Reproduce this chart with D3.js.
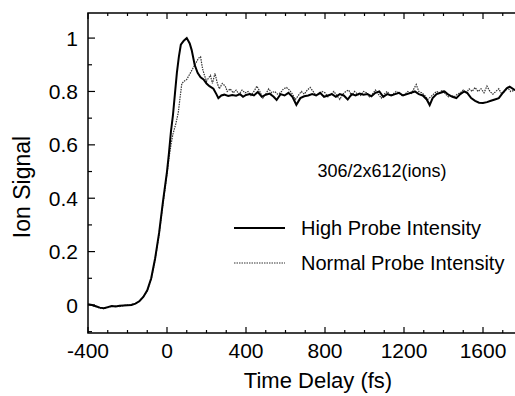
<!DOCTYPE html>
<html>
<head>
<meta charset="utf-8">
<script src="https://cdn.jsdelivr.net/npm/d3@7"></script>
<style>
  body { margin: 0; background: #fff; }
  svg { display: block; }
  text { font-family: "Liberation Sans", Arial, Helvetica, sans-serif; fill: #000; }
</style>
</head>
<body>
<svg width="515" height="396"></svg>
<script>
const width = 515;
const height = 396;
const margin = { top: 13, right: 0, bottom: 63, left: 88 };

// time delay (fs) / ion signal
const highTime = [-400, -380, -360, -340, -320, -300, -280, -260, -240, -220, -200, -180, -160, -140, -120, -100, -80, -60, -40, -20,
  0, 10, 20, 30, 40, 50, 60, 70, 85, 100, 115, 125, 140, 155, 170, 185, 200, 215, 235, 250, 260, 275, 290, 310, 330, 350, 370, 385,
  400, 420, 440, 460, 480, 500, 520, 540, 555, 575, 595, 615, 635, 655, 675, 695, 715, 735, 755, 775, 795, 815, 835, 855, 875, 895,
  915, 935, 955, 975, 995, 1015, 1035, 1055, 1075, 1095, 1115, 1135, 1155, 1175, 1195, 1215, 1235, 1255, 1275, 1295, 1315, 1330,
  1345, 1365, 1385, 1405, 1425, 1445, 1465, 1485, 1505, 1520, 1540, 1560, 1580, 1600, 1620, 1640, 1660, 1680, 1700, 1720, 1735, 1762];
const highSignal = [0.003, 0.0, -0.005, -0.01, -0.012, -0.008, -0.004, -0.006, -0.003, -0.002, -0.001, 0.0, 0.005, 0.014, 0.03, 0.055, 0.1, 0.175, 0.27, 0.39,
  0.5, 0.57, 0.65, 0.71, 0.79, 0.87, 0.93, 0.975, 0.99, 1.0, 0.98, 0.955, 0.9, 0.87, 0.853, 0.845, 0.83, 0.82, 0.81, 0.79, 0.775, 0.785, 0.788, 0.783, 0.787, 0.784, 0.79, 0.78,
  0.787, 0.79, 0.785, 0.798, 0.78, 0.788, 0.792, 0.78, 0.768, 0.79, 0.785, 0.795, 0.78, 0.75, 0.775, 0.782, 0.785, 0.79, 0.785, 0.795, 0.78, 0.785, 0.79, 0.78, 0.79, 0.785,
  0.77, 0.79, 0.785, 0.792, 0.788, 0.79, 0.782, 0.795, 0.8, 0.78, 0.79, 0.785, 0.79, 0.795, 0.785, 0.79, 0.795, 0.8, 0.79, 0.785, 0.77, 0.749,
  0.775, 0.79, 0.795, 0.8, 0.788, 0.78, 0.775, 0.79, 0.8, 0.795, 0.775, 0.765, 0.758, 0.757, 0.76, 0.765, 0.77, 0.775, 0.795, 0.812, 0.818, 0.805];

const normalTime = [-400, -380, -360, -340, -320, -300, -280, -260, -240, -220, -200, -180, -160, -140, -120, -100, -80, -60, -40, -20,
  0, 10, 20, 30, 45, 57, 65, 75, 90, 100, 115, 130, 145, 160, 170, 180, 190, 200, 210, 220, 230, 243, 255, 265, 280, 295, 305, 320,
  335, 350, 365, 380, 395, 410, 425, 440, 455, 470, 485, 500, 515, 530, 545, 560, 575, 590, 605, 620, 635, 650, 665, 680, 695, 710,
  725, 740, 755, 770, 785, 800, 815, 830, 845, 860, 875, 890, 905, 920, 935, 950, 965, 980, 995, 1010, 1025, 1040, 1055, 1070, 1085,
  1100, 1115, 1130, 1145, 1160, 1175, 1190, 1205, 1220, 1235, 1250, 1262, 1275, 1290, 1305, 1320, 1335, 1350, 1365, 1380, 1395, 1410,
  1425, 1440, 1455, 1470, 1485, 1500, 1515, 1530, 1545, 1560, 1575, 1590, 1605, 1620, 1635, 1650, 1665, 1680, 1695, 1710, 1725, 1740, 1762];
const normalSignal = [0.002, -0.002, -0.006, -0.012, -0.014, -0.01, -0.005, -0.004, -0.006, -0.002, 0.0, 0.002, 0.006, 0.015, 0.03, 0.053, 0.095, 0.17, 0.265, 0.38,
  0.49, 0.55, 0.6, 0.64, 0.68, 0.72, 0.77, 0.83, 0.84, 0.845, 0.865, 0.885, 0.905, 0.925, 0.93, 0.885, 0.86, 0.838, 0.85, 0.86, 0.83, 0.868, 0.83, 0.81, 0.83, 0.82, 0.8, 0.81,
  0.795, 0.805, 0.79, 0.805, 0.795, 0.8, 0.785, 0.8, 0.82, 0.8, 0.775, 0.79, 0.81, 0.795, 0.8, 0.79, 0.795, 0.81, 0.815, 0.805, 0.79, 0.77, 0.785, 0.8, 0.79, 0.805,
  0.815, 0.8, 0.785, 0.79, 0.8, 0.795, 0.78, 0.79, 0.8, 0.785, 0.77, 0.79, 0.8, 0.805, 0.785, 0.8, 0.79, 0.785, 0.8, 0.795, 0.78, 0.79, 0.805, 0.79, 0.775,
  0.79, 0.8, 0.785, 0.79, 0.8, 0.795, 0.785, 0.79, 0.8, 0.79, 0.81, 0.826, 0.8, 0.795, 0.785, 0.77, 0.78, 0.79, 0.8, 0.795, 0.805, 0.79,
  0.78, 0.785, 0.78, 0.79, 0.795, 0.805, 0.795, 0.81, 0.8, 0.815, 0.8, 0.81, 0.795, 0.82, 0.8, 0.79, 0.8, 0.81, 0.79, 0.8, 0.815, 0.8, 0.805];

const xTicks = [-400, 0, 400, 800, 1200, 1600];
const yTicks = [0, 0.2, 0.4, 0.6, 0.8, 1];
const seriesNames = ["High Probe Intensity", "Normal Probe Intensity"];
const note = "306/2x612(ions)";

const svg = d3.select("svg");

const x = d3.scaleLinear()
  .domain([-400, 1762])
  .range([margin.left, width - margin.right]);

const y = d3.scaleLinear()
  .domain([-0.105, 1.094])
  .range([height - margin.bottom, margin.top]);

const plotBottom = height - margin.bottom;

// axis lines (left, bottom, top)
svg.append("path")
  .attr("d", `M${width},${margin.top}H${margin.left}V${plotBottom}H${width}`)
  .attr("fill", "none")
  .attr("stroke", "#000")
  .attr("stroke-width", 1.5);

// inward ticks
const xMinor = d3.range(-400, 1762, 100);
const yMinor = d3.range(-0.1, 1.09, 0.1);

const tickGroup = svg.append("g").attr("stroke", "#000").attr("stroke-width", 1.2);
xMinor.forEach(t => {
  const major = xTicks.includes(t);
  const len = major ? 6 : 3;
  tickGroup.append("line")
    .attr("x1", x(t)).attr("x2", x(t))
    .attr("y1", plotBottom).attr("y2", plotBottom - len);
  tickGroup.append("line")
    .attr("x1", x(t)).attr("x2", x(t))
    .attr("y1", margin.top).attr("y2", margin.top + len);
});
yMinor.forEach(v => {
  const major = yTicks.some(m => Math.abs(m - v) < 1e-6);
  tickGroup.append("line")
    .attr("x1", margin.left).attr("x2", margin.left + (major ? 7 : 4))
    .attr("y1", y(v)).attr("y2", y(v));
});

// tick labels
svg.append("g")
  .selectAll("text")
  .data(xTicks)
  .join("text")
  .attr("x", d => x(d))
  .attr("y", plotBottom + 25)
  .attr("text-anchor", "middle")
  .attr("font-size", 21)
  .text(d => d);

svg.append("g")
  .selectAll("text")
  .data(yTicks)
  .join("text")
  .attr("x", margin.left - 10)
  .attr("y", d => y(d))
  .attr("dy", "0.36em")
  .attr("text-anchor", "end")
  .attr("font-size", 21)
  .text(d => d);

// axis titles
svg.append("text")
  .attr("x", 318)
  .attr("y", 388)
  .attr("text-anchor", "middle")
  .attr("font-size", 22)
  .text("Time Delay (fs)");

svg.append("text")
  .attr("transform", `translate(30,187) rotate(-90)`)
  .attr("text-anchor", "middle")
  .attr("font-size", 23)
  .text("Ion Signal");

// lines
const line = d3.line()
  .x(d => x(d[0]))
  .y(d => y(d[1]));

svg.append("path")
  .datum(d3.zip(normalTime, normalSignal))
  .attr("d", line)
  .attr("fill", "none")
  .attr("stroke", "#333")
  .attr("stroke-width", 1.2)
  .attr("stroke-dasharray", "1.5,1");

svg.append("path")
  .datum(d3.zip(highTime, highSignal))
  .attr("d", line)
  .attr("fill", "none")
  .attr("stroke", "#000")
  .attr("stroke-width", 2);

// annotation
svg.append("text")
  .attr("x", 382)
  .attr("y", 177)
  .attr("text-anchor", "middle")
  .attr("font-size", 18)
  .text(note);

// legend
const legend = svg.append("g");
seriesNames.forEach((name, i) => {
  const ly = 228 + i * 35;
  legend.append("line")
    .attr("x1", 234).attr("x2", 285)
    .attr("y1", ly).attr("y2", ly)
    .attr("stroke", i === 0 ? "#000" : "#333")
    .attr("stroke-width", i === 0 ? 2 : 1.2)
    .attr("stroke-dasharray", i === 0 ? null : "1.5,1");
  legend.append("text")
    .attr("x", 301)
    .attr("y", ly)
    .attr("dy", "0.36em")
    .attr("font-size", 20)
    .text(name);
});
</script>
</body>
</html>
